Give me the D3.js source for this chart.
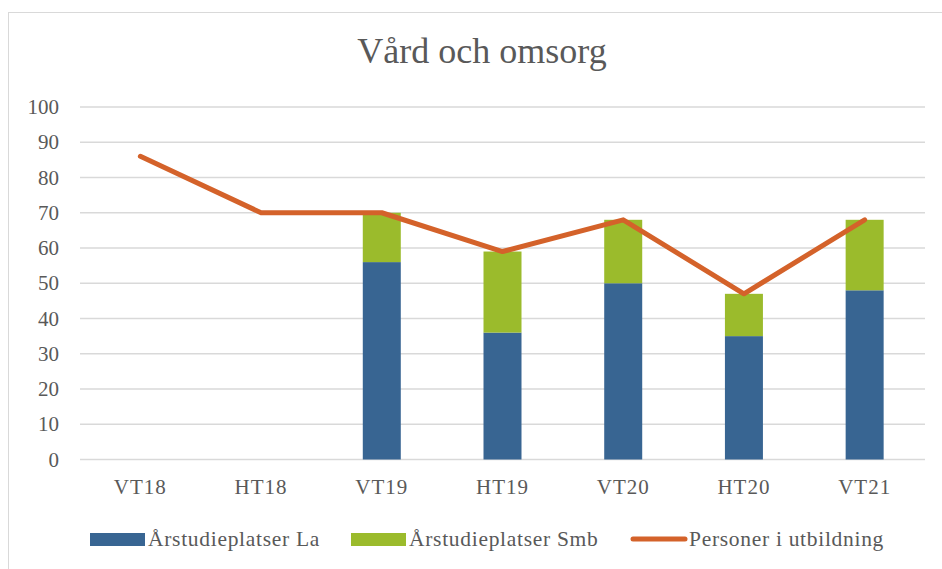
<!DOCTYPE html>
<html>
<head>
<meta charset="utf-8">
<script src="https://cdn.jsdelivr.net/npm/d3@7"></script>
<style>
  body { margin: 0; background: #fff; }
  svg { display: block; font-family: "Liberation Serif", "DejaVu Serif", serif; }
</style>
</head>
<body>
<svg width="942" height="569"></svg>
<script>
var categories = ["VT18", "HT18", "VT19", "HT19", "VT20", "HT20", "VT21"];
var platserLa = [0, 0, 56, 36, 50, 35, 48];
var platserSmb = [0, 0, 14, 23, 18, 12, 20];
var personer = [86, 70, 70, 59, 68, 47, 68];
var yTicks = [0, 10, 20, 30, 40, 50, 60, 70, 80, 90, 100];

var colLa = "#386592", colSmb = "#9bbb2c", colLine = "#d4622a", textCol = "#595959";

var svg = d3.select("svg");

// chart frame
svg.append("rect")
  .attr("x", 8.5).attr("y", 12.5)
  .attr("width", 940).attr("height", 570)
  .attr("fill", "none").attr("stroke", "#d9d9d9");

svg.append("text")
  .attr("x", 482).attr("y", 63)
  .attr("text-anchor", "middle")
  .attr("fill", textCol)
  .attr("font-size", 36)
  .text("Vård och omsorg");

var x = d3.scaleBand().domain(categories).range([80, 925]);
var y = d3.scaleLinear().domain([0, 100]).range([459.5, 107]);

// gridlines
svg.append("g").selectAll("line")
  .data(yTicks)
  .enter().append("line")
    .attr("x1", 80).attr("x2", 925)
    .attr("y1", function(d) { return y(d); })
    .attr("y2", function(d) { return y(d); })
    .attr("stroke", "#d9d9d9")
    .attr("stroke-width", 1.5);

// y axis labels
var yAxis = svg.append("g")
  .attr("transform", "translate(59,0)")
  .call(d3.axisLeft(y).tickValues(yTicks).tickSize(0).tickPadding(0));
yAxis.select(".domain").remove();
yAxis.selectAll("text")
  .attr("fill", textCol)
  .attr("font-size", 21)
  .attr("font-family", "'Liberation Serif', serif");

// x axis labels
var xAxis = svg.append("g")
  .attr("transform", "translate(0,479)")
  .call(d3.axisBottom(x).tickSize(0).tickPadding(0));
xAxis.select(".domain").remove();
xAxis.selectAll("text")
  .attr("fill", textCol)
  .attr("font-size", 21)
  .attr("letter-spacing", 1)
  .attr("font-family", "'Liberation Serif', serif");

// stacked bars
var rows = categories.map(function(c, i) { return {cat: c, la: platserLa[i], smb: platserSmb[i]}; });
var stack = d3.stack().keys(["la", "smb"])(rows);
var colors = {la: colLa, smb: colSmb};
var barW = 38;

svg.append("g").selectAll("g")
  .data(stack)
  .enter().append("g")
    .attr("fill", function(d) { return colors[d.key]; })
  .selectAll("rect")
  .data(function(d) { return d; })
  .enter().append("rect")
    .attr("x", function(d) { return x(d.data.cat) + x.bandwidth() / 2 - barW / 2; })
    .attr("width", barW)
    .attr("y", function(d) { return y(d[1]); })
    .attr("height", function(d) { return y(d[0]) - y(d[1]); });

// line
var line = d3.line()
  .x(function(d, i) { return x(categories[i]) + x.bandwidth() / 2; })
  .y(function(d) { return y(d); });

svg.append("path")
  .datum(personer)
  .attr("d", line)
  .attr("fill", "none")
  .attr("stroke", colLine)
  .attr("stroke-width", 5)
  .attr("stroke-linejoin", "round")
  .attr("stroke-linecap", "round");

// legend
var legend = [
  {label: "Årstudieplatser La", color: colLa, type: "rect", x: 90},
  {label: "Årstudieplatser Smb", color: colSmb, type: "rect", x: 351},
  {label: "Personer i utbildning", color: colLine, type: "line", x: 631}
];
var lg = svg.append("g").selectAll("g")
  .data(legend)
  .enter().append("g")
    .attr("transform", function(d) { return "translate(" + d.x + ",539)"; });

lg.filter(function(d) { return d.type == "rect"; })
  .append("rect")
    .attr("x", 0).attr("y", -6)
    .attr("width", 55).attr("height", 13)
    .attr("fill", function(d) { return d.color; });

lg.filter(function(d) { return d.type == "line"; })
  .append("line")
    .attr("x1", 2).attr("x2", 54)
    .attr("stroke", function(d) { return d.color; })
    .attr("stroke-width", 5)
    .attr("stroke-linecap", "round");

lg.append("text")
  .attr("x", 58).attr("y", 7)
  .attr("fill", textCol)
  .attr("font-size", 21.5)
  .attr("letter-spacing", 0.7)
  .text(function(d) { return d.label; });
</script>
</body>
</html>
